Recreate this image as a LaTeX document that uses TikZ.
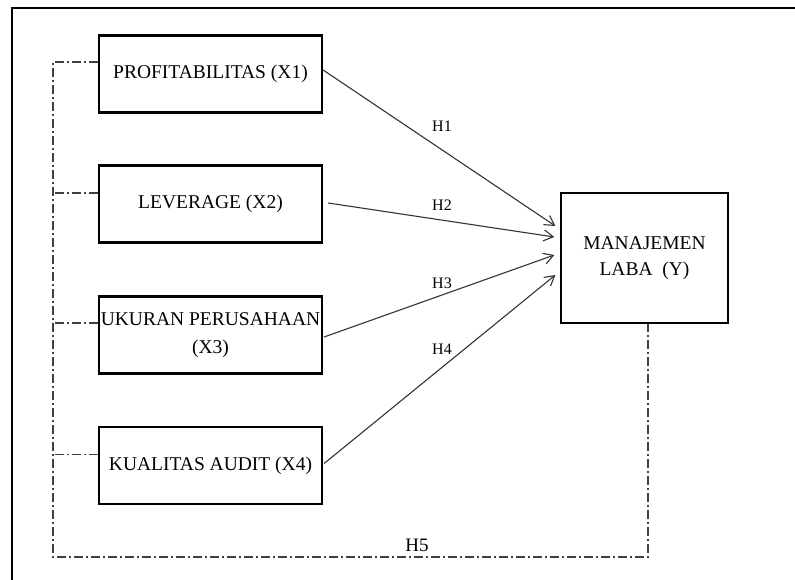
\documentclass[tikz,border=0pt]{standalone}
\usepackage{fontspec}
\setmainfont{Liberation Serif}
\usepackage{tikz}
\usetikzlibrary{calc,arrows.meta}

\begin{document}
\begin{tikzpicture}[x=1pt,y=-1pt,
  var/.style={draw,line width=2.2pt,minimum width=223pt,minimum height=77pt,align=center,inner sep=0pt,font=\fontsize{19.5}{28}\selectfont},
  dep/.style={draw,line width=1.3pt,minimum width=167pt,minimum height=130pt,align=center,inner sep=0pt,font=\fontsize{19.5}{26}\selectfont},
  hyp/.style={-{Straight Barb[angle=60:11pt]},line width=1.1pt,black!80},
  mod/.style={black!75,line width=1.3pt,dash pattern=on 9pt off 3pt on 2pt off 3pt},
  lbl/.style={font=\fontsize{16}{18}\selectfont}]
\useasboundingbox (0,0) rectangle (795,580);
\draw[line width=2.2pt] (795,8) -- (12,8) -- (12,580);

\node[var] (x1) at (210.5,74) {PROFITABILITAS (X1)};
\node[var] (x2) at (210.5,204) {LEVERAGE (X2)};
\node[var] (x3) at (210.5,335) {UKURAN PERUSAHAAN\\(X3)};
\node[var] (x4) at (210.5,465.5) {KUALITAS AUDIT (X4)};
\node[dep] (y) at (644.5,258) {MANAJEMEN\\LABA\ \ (Y)};

\draw[hyp] ($(x1.east)+(0,-4)$) -- ($(y.west)+(-5,-32)$);
\draw[hyp] ($(x2.east)+(5,-1)$) -- ($(y.west)+(-6,-21)$);
\draw[hyp] ($(x3.east)+(1,2)$) -- ($(y.west)+(-6,-3)$);
\draw[hyp] ($(x4.east)+(1,-2)$) -- ($(y.west)+(-5,17)$);

\node[lbl] (h1) at (442,126) {H1};
\node[lbl] (h2) at (442,205) {H2};
\node[lbl] (h3) at (442,283) {H3};
\node[lbl] (h4) at (442,349) {H4};
\node[font=\fontsize{19}{21}\selectfont] (h5) at (417,545) {H5};

\draw[mod] ($(x1.west)+(0,-12)$) -- (53,62) -- (53,557) -- (648,557) -- ($(y.south)+(3.5,0)$);
\draw[mod] ($(x2.west)+(0,-11)$) -- ++(-46,0);
\draw[mod] ($(x3.west)+(0,-12)$) -- ++(-46,0);
\draw[mod] ($(x4.west)+(0,-11)$) -- ++(-46,0);
\end{tikzpicture}
\end{document}
